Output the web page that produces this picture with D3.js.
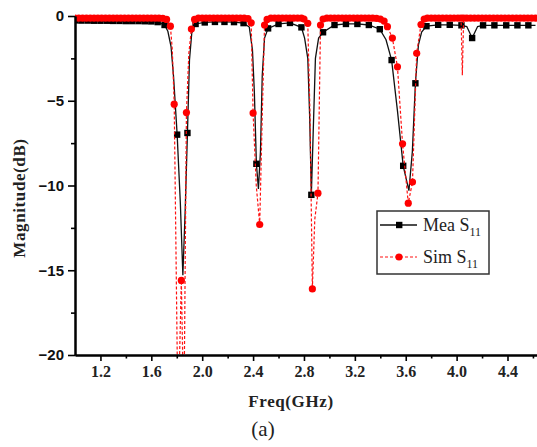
<!DOCTYPE html>
<html>
<head>
<meta charset="utf-8">
<script src="https://cdnjs.cloudflare.com/ajax/libs/d3/7.8.5/d3.min.js"></script>
<style>
  body { margin: 0; background: #fff; }
  svg { display: block; }
</style>
</head>
<body>
<div id="chart"></div>
<script>
// tick values
var xMajor = [1.2, 1.6, 2.0, 2.4, 2.8, 3.2, 3.6, 4.0, 4.4];
var xMinor = [1.4, 1.8, 2.2, 2.6, 3.0, 3.4, 3.8, 4.2, 4.6];
var yMajor = [0, -5, -10, -15, -20];
var yMinor = [-2.5, -7.5, -12.5, -17.5];

// [freq GHz, dB, marker drawn?]
var meaPoints = [
  [1.00, -0.26, 1], [1.05, -0.27, 1], [1.10, -0.27, 1], [1.15, -0.28, 1], [1.20, -0.28, 1],
  [1.25, -0.28, 1], [1.30, -0.29, 1], [1.35, -0.29, 1], [1.40, -0.30, 1], [1.45, -0.30, 1],
  [1.50, -0.30, 1], [1.55, -0.31, 1], [1.60, -0.32, 1], [1.65, -0.36, 1],
  [1.704, -0.53, 1], [1.73, -0.9, 0], [1.755, -1.8, 0], [1.775, -3.6, 0], [1.803, -7.0, 1],
  [1.828, -11.0, 0], [1.848, -15.3, 0], [1.866, -11.5, 0], [1.884, -6.9, 1], [1.90, -2.6, 0],
  [1.918, -1.0, 0], [1.948, -0.47, 1],
  [2.02, -0.38, 1], [2.10, -0.35, 1], [2.175, -0.35, 1], [2.25, -0.36, 1], [2.325, -0.42, 1],
  [2.37, -0.65, 0], [2.395, -2.0, 0], [2.41, -4.5, 0], [2.426, -8.72, 1], [2.442, -10.2, 0],
  [2.458, -8.0, 0], [2.472, -3.5, 0], [2.49, -1.3, 0], [2.518, -0.73, 1],
  [2.60, -0.47, 1], [2.69, -0.41, 1], [2.78, -0.67, 1], [2.805, -1.3, 0], [2.83, -2.5, 0],
  [2.845, -6.0, 0], [2.858, -10.55, 1], [2.872, -7.0, 0], [2.89, -2.5, 0], [2.915, -1.3, 0],
  [2.95, -0.96, 1],
  [3.04, -0.53, 1], [3.13, -0.47, 1], [3.22, -0.47, 1], [3.31, -0.53, 1], [3.396, -0.78, 1],
  [3.445, -1.4, 0], [3.489, -2.6, 1], [3.535, -5.6, 0], [3.58, -8.84, 1], [3.625, -10.3, 0],
  [3.652, -8.0, 0], [3.676, -3.97, 1], [3.70, -1.7, 0], [3.725, -0.95, 0], [3.763, -0.6, 1],
  [3.855, -0.52, 1], [3.946, -0.52, 1], [4.038, -0.55, 1], [4.08, -0.62, 0], [4.122, -1.3, 1],
  [4.165, -0.62, 0], [4.208, -0.55, 1], [4.297, -0.55, 1], [4.39, -0.55, 1], [4.478, -0.55, 1],
  [4.564, -0.55, 1], [4.62, -0.55, 0]
];

var simPoints = [
  [1.00, -0.12, 1], [1.03, -0.12, 1], [1.06, -0.12, 1], [1.09, -0.12, 1], [1.12, -0.12, 1],
  [1.15, -0.12, 1], [1.18, -0.12, 1], [1.21, -0.12, 1], [1.24, -0.12, 1], [1.27, -0.12, 1],
  [1.30, -0.12, 1], [1.33, -0.12, 1], [1.36, -0.12, 1], [1.39, -0.12, 1], [1.42, -0.12, 1],
  [1.45, -0.12, 1], [1.48, -0.12, 1], [1.51, -0.12, 1], [1.54, -0.12, 1], [1.57, -0.12, 1],
  [1.60, -0.12, 1], [1.63, -0.13, 1], [1.66, -0.13, 1], [1.69, -0.14, 1], [1.72, -0.2, 1],
  [1.75, -0.6, 1], [1.765, -2.0, 0], [1.78, -5.2, 1], [1.81, -24, 0], [1.836, -15.6, 1],
  [1.856, -24, 0], [1.876, -5.7, 1], [1.895, -2.2, 0], [1.915, -0.77, 1], [1.94, -0.2, 1],
  [1.97, -0.12, 1], [2.00, -0.12, 1], [2.03, -0.12, 1], [2.06, -0.12, 1], [2.09, -0.12, 1],
  [2.12, -0.12, 1], [2.15, -0.12, 1], [2.18, -0.12, 1], [2.21, -0.12, 1], [2.24, -0.12, 1],
  [2.27, -0.12, 1], [2.30, -0.12, 1], [2.33, -0.13, 1], [2.36, -0.15, 1],
  [2.385, -0.4, 1], [2.40, -5.73, 1], [2.425, -10.0, 0], [2.452, -12.3, 1], [2.47, -6.5, 0],
  [2.49, -0.53, 1], [2.51, -0.2, 1],
  [2.54, -0.12, 1], [2.57, -0.12, 1], [2.60, -0.12, 1], [2.63, -0.12, 1], [2.66, -0.12, 1],
  [2.69, -0.12, 1], [2.72, -0.12, 1], [2.75, -0.12, 1], [2.78, -0.13, 1], [2.80, -0.18, 1],
  [2.83, -0.43, 1], [2.848, -6.0, 0], [2.866, -16.1, 1], [2.885, -12.0, 0], [2.91, -10.45, 1],
  [2.93, -0.53, 1], [2.95, -0.18, 1],
  [2.98, -0.12, 1], [3.01, -0.12, 1], [3.04, -0.12, 1], [3.07, -0.12, 1], [3.10, -0.12, 1],
  [3.13, -0.12, 1], [3.16, -0.12, 1], [3.19, -0.12, 1], [3.22, -0.12, 1], [3.25, -0.12, 1],
  [3.28, -0.12, 1], [3.31, -0.12, 1], [3.34, -0.13, 1], [3.37, -0.14, 1], [3.40, -0.18, 1],
  [3.43, -0.3, 1], [3.456, -0.63, 1], [3.495, -1.3, 1], [3.535, -3.0, 1], [3.575, -7.54, 1],
  [3.62, -11.04, 1], [3.653, -9.8, 1], [3.686, -2.2, 1], [3.72, -0.5, 1], [3.745, -0.18, 1],
  [3.77, -0.12, 1], [3.80, -0.12, 1], [3.83, -0.12, 1], [3.86, -0.12, 1], [3.89, -0.12, 1],
  [3.92, -0.12, 1], [3.95, -0.12, 1], [3.98, -0.12, 1], [4.01, -0.12, 1], [4.035, -0.12, 1],
  [4.045, -3.5, 0], [4.055, -0.12, 1], [4.08, -0.12, 1], [4.11, -0.12, 1], [4.14, -0.12, 1],
  [4.17, -0.12, 1], [4.20, -0.12, 1], [4.23, -0.12, 1], [4.26, -0.12, 1], [4.29, -0.12, 1],
  [4.32, -0.12, 1], [4.35, -0.12, 1], [4.38, -0.12, 1], [4.41, -0.12, 1], [4.44, -0.12, 1],
  [4.47, -0.12, 1], [4.50, -0.12, 1], [4.53, -0.12, 1], [4.56, -0.12, 1], [4.59, -0.12, 1],
  [4.62, -0.12, 1]
];

var legendNames = ["Mea", "Sim"];

var S11_Chart = function(opt) {
  this.element = opt.element;
  this.width = 537;
  this.height = 447;
  this.draw();
};

S11_Chart.prototype.draw = function() {
  this.svg = d3.select(this.element).append("svg")
    .attr("width", this.width)
    .attr("height", this.height);

  this.x = d3.scaleLinear().domain([1.0, 4.65]).range([75, 539.3]);
  this.y = d3.scaleLinear().domain([-20, 0]).range([355, 16]);

  this.svg.append("clipPath").attr("id", "plotclip")
    .append("rect")
    .attr("x", 75).attr("y", 0)
    .attr("width", 470).attr("height", 355);

  this.plot = this.svg.append("g").attr("clip-path", "url(#plotclip)");

  this.addSeries(meaPoints, "mea");
  this.addSeries(simPoints, "sim");
  this.addAxis();
  this.addLabels();
  this.addLegend();
};

S11_Chart.prototype.addSeries = function(points, kind) {
  var that = this;
  var line = d3.line()
    .x(function(d) { return that.x(d[0]); })
    .y(function(d) { return that.y(d[1]); });

  var path = this.plot.append("path")
    .datum(points)
    .attr("fill", "none")
    .attr("d", line);

  var marks = points.filter(function(d) { return d[2] === 1; });

  if (kind === "mea") {
    path.attr("stroke", "#111").attr("stroke-width", 1.3);
    this.plot.selectAll(".sq")
      .data(marks)
      .enter().append("rect")
      .attr("class", "sq")
      .attr("x", function(d) { return that.x(d[0]) - 3.2; })
      .attr("y", function(d) { return that.y(d[1]) - 3.2; })
      .attr("width", 6.4)
      .attr("height", 6.4)
      .attr("fill", "#000");
  } else {
    path.attr("stroke", "#ff1010").attr("stroke-width", 1.2)
      .attr("stroke-dasharray", "3,2");
    this.plot.selectAll(".dot")
      .data(marks)
      .enter().append("circle")
      .attr("class", "dot")
      .attr("cx", function(d) { return that.x(d[0]); })
      .attr("cy", function(d) { return that.y(d[1]); })
      .attr("r", 3.6)
      .attr("fill", "#ff0000");
  }
};

S11_Chart.prototype.addAxis = function() {
  var xAxis = d3.axisBottom(this.x).tickValues(xMajor)
    .tickSize(6).tickSizeOuter(0).tickPadding(5)
    .tickFormat(d3.format(".1f"));
  var xAxisMinor = d3.axisBottom(this.x).tickValues(xMinor)
    .tickSize(3.5).tickSizeOuter(0).tickFormat("");
  var yAxis = d3.axisLeft(this.y).tickValues(yMajor)
    .tickSize(7).tickSizeOuter(0).tickPadding(4)
    .tickFormat(d3.format("d"));
  var yAxisMinor = d3.axisLeft(this.y).tickValues(yMinor)
    .tickSize(4).tickSizeOuter(0).tickFormat("");

  var gx = this.svg.append("g").attr("class", "x-axis")
    .attr("transform", "translate(0,355)").call(xAxis);
  this.svg.append("g").attr("class", "x-axis")
    .attr("transform", "translate(0,355)").call(xAxisMinor);
  var gy = this.svg.append("g").attr("class", "y-axis")
    .attr("transform", "translate(75,0)").call(yAxis);
  this.svg.append("g").attr("class", "y-axis")
    .attr("transform", "translate(75,0)").call(yAxisMinor);

  this.svg.selectAll(".x-axis path, .y-axis path")
    .attr("stroke", "#000").attr("stroke-width", 2);
  this.svg.selectAll(".x-axis line, .y-axis line")
    .attr("stroke", "#000").attr("stroke-width", 1.6);

  gx.selectAll("text")
    .attr("fill", "#222")
    .style("font-family", "'Liberation Serif', serif")
    .style("font-weight", "bold")
    .style("font-size", "16px");
  gy.selectAll("text")
    .attr("fill", "#111")
    .style("font-family", "'Liberation Sans', Arial, sans-serif")
    .style("font-weight", "bold")
    .style("font-size", "15px");
};

S11_Chart.prototype.addLabels = function() {
  this.svg.append("text")
    .attr("x", 291).attr("y", 407)
    .attr("text-anchor", "middle")
    .style("font-family", "'Liberation Serif', serif")
    .style("font-weight", "bold")
    .style("font-size", "17px")
    .style("letter-spacing", "0.6px")
    .attr("fill", "#222")
    .text("Freq(GHz)");

  this.svg.append("text")
    .attr("transform", "translate(25,198) rotate(-90)")
    .attr("text-anchor", "middle")
    .style("font-family", "'Liberation Serif', serif")
    .style("font-weight", "bold")
    .style("font-size", "17px")
    .style("letter-spacing", "0.6px")
    .attr("fill", "#222")
    .text("Magnitude(dB)");

  this.svg.append("text")
    .attr("x", 263).attr("y", 436)
    .attr("text-anchor", "middle")
    .style("font-family", "'Liberation Serif', serif")
    .style("font-size", "21px")
    .attr("fill", "#222")
    .text("(a)");
};

S11_Chart.prototype.addLegend = function() {
  var lg = this.svg.append("g").attr("transform", "translate(377,211)");
  lg.append("rect")
    .attr("width", 112).attr("height", 63)
    .attr("fill", "#fff")
    .attr("stroke", "#333").attr("stroke-width", 1.5);

  var rows = lg.selectAll(".row")
    .data(legendNames)
    .enter().append("g")
    .attr("transform", function(d, i) { return "translate(0," + (14 + i * 32) + ")"; });

  rows.append("line")
    .attr("x1", 3).attr("x2", 40)
    .attr("stroke", function(d, i) { return i === 0 ? "#111" : "#ff1010"; })
    .attr("stroke-width", function(d, i) { return i === 0 ? 1.3 : 1.2; })
    .attr("stroke-dasharray", function(d, i) { return i === 0 ? null : "3,2"; });

  rows.filter(function(d, i) { return i === 0; })
    .append("rect")
    .attr("x", 19).attr("y", -3.2).attr("width", 6.4).attr("height", 6.4)
    .attr("fill", "#000");
  rows.filter(function(d, i) { return i === 1; })
    .append("circle")
    .attr("cx", 22).attr("r", 3.6).attr("fill", "#ff0000");

  var txt = rows.append("text")
    .attr("x", 46).attr("y", 6)
    .style("font-family", "'Liberation Serif', serif")
    .style("font-size", "18px")
    .attr("fill", "#222");
  txt.append("tspan").text(function(d) { return d + " S"; });
  txt.append("tspan").attr("dy", 5).style("font-size", "12px").text("11");
};

var chart = new S11_Chart({ element: "#chart" });
</script>
</body>
</html>
